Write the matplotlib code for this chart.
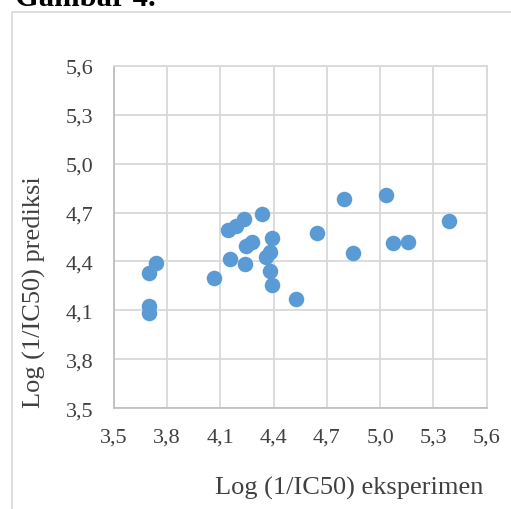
import matplotlib
matplotlib.use("Agg")
import matplotlib.pyplot as plt
from matplotlib.patches import Rectangle
from matplotlib.ticker import FuncFormatter

# data
eksperimen = [3.695, 3.736, 3.695, 3.695, 4.066, 4.143, 4.190, 4.231, 4.334,
              4.154, 4.237, 4.241, 4.280, 4.390, 4.381, 4.359, 4.380, 4.393,
              4.528, 4.642, 4.796, 5.034, 4.846, 5.071, 5.158, 5.386]
prediksi = [4.328, 4.389, 4.128, 4.083, 4.300, 4.590, 4.618, 4.659, 4.694,
            4.414, 4.382, 4.496, 4.520, 4.541, 4.461, 4.425, 4.339, 4.255,
            4.173, 4.576, 4.780, 4.810, 4.449, 4.514, 4.520, 4.647]
ticks = [3.5, 3.8, 4.1, 4.4, 4.7, 5.0, 5.3, 5.6]

W, H = 511, 510
plt.rcParams['font.family'] = ['Liberation Serif', 'DejaVu Serif']

fig = plt.figure(figsize=(W / 100, H / 100), dpi=100)

# outer chart frame (cut off at right and bottom)
fig.patches.append(Rectangle((12 / W, -0.1), 1.2, 1 - 13.3 / H + 0.1,
                             transform=fig.transFigure, fill=False,
                             edgecolor='#d9d9d9', linewidth=1.2))

fig.text(15 / W, 1 - 6 / H, "Gambar 4.", fontsize=22, fontweight='bold',
         ha='left', va='baseline')

ax = fig.add_axes([114 / W, 1 - 409.3 / H, (486.7 - 114) / W, (409.3 - 66.7) / H])
ax.scatter(eksperimen, prediksi, s=125, color='#5b9bd5', zorder=3,
           linewidths=0)

ax.set_xlim(3.5, 5.6)
ax.set_ylim(3.5, 5.6)
ax.set_xticks(ticks)
ax.set_yticks(ticks)
fmt = FuncFormatter(lambda v, p: "{:.1f}".format(v).replace('.', ','))
ax.xaxis.set_major_formatter(fmt)
ax.yaxis.set_major_formatter(fmt)
ax.tick_params(length=0, labelsize=16, colors='#404040')
ax.tick_params(axis='x', pad=14)
ax.tick_params(axis='y', pad=15)
ax.grid(True, color='#d9d9d9', linewidth=1.3)
ax.set_axisbelow(True)
for side in ['top', 'right']:
    ax.spines[side].set_color('#d9d9d9')
for side in ['left', 'bottom']:
    ax.spines[side].set_color('#bfbfbf')
for s in ax.spines.values():
    s.set_linewidth(1.3)

fig.text(34 / W, 1 - 292 / H, "Log (1/IC50) prediksi", rotation=90,
         fontsize=19, color='#404040', ha='center', va='center')
fig.text(349 / W, 1 - 495 / H, "Log (1/IC50) eksperimen",
         fontsize=19, color='#404040', ha='center', va='baseline')

fig.savefig("out.png", dpi=100)
